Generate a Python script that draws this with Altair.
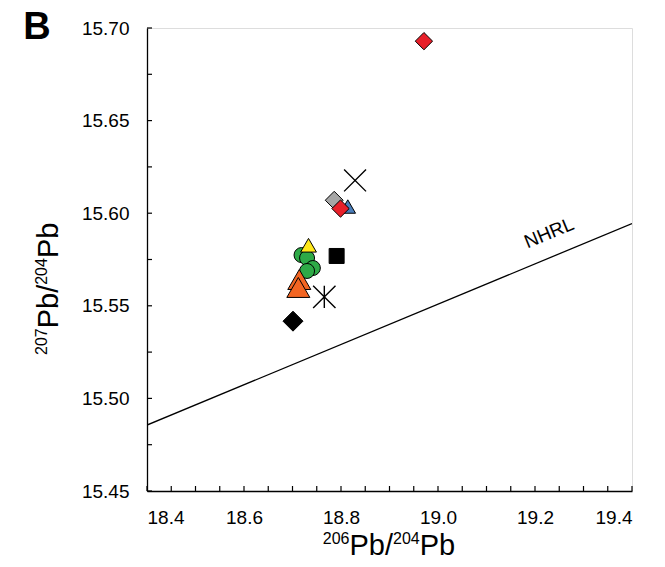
import altair as alt
import pandas as pd

# ---------------- data ----------------
blue_tri_x = [18.814]
blue_tri_y = [15.6036]
gray_dia_x = [18.786]
gray_dia_y = [15.607]
red_dia_x = [18.971, 18.799]
red_dia_y = [15.6929, 15.6025]
green_circ_x = [18.7186, 18.730, 18.742, 18.730]
green_circ_y = [15.5774, 15.5758, 15.5704, 15.5688]
yellow_tri_x = [18.733]
yellow_tri_y = [15.5827]
orange_tri_x = [18.714, 18.712]
orange_tri_y = [15.5642, 15.5599]
black_sq_x = [18.791]
black_sq_y = [15.5769]
star_x = [18.7656]
star_y = [15.5548]
black_dia_x = [18.701]
black_dia_y = [15.5417]
cross_x = [18.829]
cross_y = [15.6177]

nhrl_x = [18.4, 19.4]
nhrl_y = [15.4856, 15.5944]
nhrl_label = ["NHRL"]
nhrl_label_x = [19.229]
nhrl_label_y = [15.5893]

x_labels = [18.4, 18.6, 18.8, 19.0, 19.2, 19.4]
y_labels = [15.45, 15.50, 15.55, 15.60, 15.65, 15.70]
x_ticks = [18.4, 18.45, 18.5, 18.55, 18.6, 18.65, 18.7, 18.75, 18.8, 18.85, 18.9,
           18.95, 19.0, 19.05, 19.1, 19.15, 19.2, 19.25, 19.3, 19.35, 19.4]
y_ticks = [15.45, 15.475, 15.5, 15.525, 15.55, 15.575, 15.6, 15.625, 15.65,
           15.675, 15.7]
panel_label = ["B"]
x_title_parts = ["206", "Pb/", "204", "Pb"]
y_title_parts = ["207", "Pb/", "204", "Pb"]

# ---------------- styling ----------------
FONT = "Liberation Sans"
W, H = 485, 463
MAIN_FS, SUP_FS = 29, 16
TICK_LEN = 5
TICK_COL = "black"

xscale = alt.Scale(domain=[18.4, 19.4], nice=False, zero=False)
yscale = alt.Scale(domain=[15.45, 15.70], nice=False, zero=False)

xaxis = alt.Axis(values=x_labels, format=".1f", ticks=False, grid=False,
                 domainColor="black", domainWidth=1.3,
                 labelFont=FONT, labelFontSize=19, labelColor="black", labelPadding=17,
                 title=None)
yaxis = alt.Axis(values=y_labels, format=".2f", ticks=False, grid=False,
                 domainColor="black", domainWidth=1.3,
                 labelFont=FONT, labelFontSize=19, labelColor="black", labelPadding=18,
                 title=None)


def xy(xs, ys):
    return pd.DataFrame({"x": xs, "y": ys})


def enc(ch):
    return ch.encode(x=alt.X("x:Q", scale=xscale, axis=xaxis),
                     y=alt.Y("y:Q", scale=yscale, axis=yaxis))


def marker(xs, ys, shape, size, fill, filled=True, sw=1.0):
    if filled:
        m = alt.Chart(xy(xs, ys)).mark_point(shape=shape, size=size, filled=True,
                                             fill=fill, stroke="black", strokeWidth=sw,
                                             opacity=1)
    else:
        m = alt.Chart(xy(xs, ys)).mark_point(shape=shape, size=size, filled=False,
                                             stroke="black", strokeWidth=sw, opacity=1)
    return enc(m)


def text_piece(txt, px, py, fs, angle=0):
    props = dict(font=FONT, fontSize=fs, align="left", baseline="alphabetic", color="black")
    if angle:
        props["angle"] = angle
    return alt.Chart(pd.DataFrame({"t": [txt]})).mark_text(**props).encode(
        x=alt.value(px), y=alt.value(py), text="t:N")


X_PATH = "M-1,-1L1,1M-1,1L1,-1"
STAR_PATH = "M-1,-1L1,1M-1,1L1,-1M0,-1L0,1"

nhrl = enc(alt.Chart(xy(nhrl_x, nhrl_y)).mark_line(color="black", strokeWidth=1.3, clip=True))

nhrl_text = alt.Chart(pd.DataFrame({"x": nhrl_label_x, "y": nhrl_label_y, "t": nhrl_label})).mark_text(
    font=FONT, fontSize=19, angle=337.5, align="center", baseline="middle", color="black"
).encode(x=alt.X("x:Q", scale=xscale, axis=xaxis), y=alt.Y("y:Q", scale=yscale, axis=yaxis),
         text="t:N")

# inward-pointing tick marks
xtick_layer = alt.Chart(pd.DataFrame({"v": x_ticks})).mark_rule(
    color=TICK_COL, strokeWidth=1.2, opacity=1).encode(
    x=alt.X("v:Q", scale=xscale, axis=xaxis),
    y=alt.YDatum(15.45, scale=yscale, axis=yaxis),
    y2=alt.Y2Datum(15.45 + 0.25 * TICK_LEN / H))
ytick_layer = alt.Chart(pd.DataFrame({"v": y_ticks})).mark_rule(
    color=TICK_COL, strokeWidth=1.2, opacity=1).encode(
    y=alt.Y("v:Q", scale=yscale, axis=yaxis),
    x=alt.XDatum(18.4, scale=xscale, axis=xaxis),
    x2=alt.X2Datum(18.4 + 1.0 * TICK_LEN / W))

label_b = alt.Chart(pd.DataFrame({"t": panel_label})).mark_text(
    font=FONT, fontSize=38, fontWeight="bold", align="center", baseline="alphabetic", color="black"
).encode(x=alt.value(-110), y=alt.value(11), text="t:N")

# composed axis titles (superscript mass numbers)
x_title = [
    text_piece(x_title_parts[0], 175.8, 515.5, SUP_FS),
    text_piece(x_title_parts[1], 202.5, 527, MAIN_FS),
    text_piece(x_title_parts[2], 246.0, 515.5, SUP_FS),
    text_piece(x_title_parts[3], 272.7, 527, MAIN_FS),
]
y_title = [
    text_piece(y_title_parts[0], -100.5, 327, SUP_FS, 270),
    text_piece(y_title_parts[1], -89, 300.3, MAIN_FS, 270),
    text_piece(y_title_parts[2], -100.5, 256.8, SUP_FS, 270),
    text_piece(y_title_parts[3], -89, 230.1, MAIN_FS, 270),
]

layers = [
    nhrl,
    nhrl_text,
    xtick_layer,
    ytick_layer,
    marker(blue_tri_x, blue_tri_y, "triangle-up", 240, "#4A7EBB"),
    marker(gray_dia_x, gray_dia_y, "diamond", 320, "#A6A6A6"),
    marker(red_dia_x, red_dia_y, "diamond", 300, "#E8202A"),
    marker(green_circ_x, green_circ_y, "circle", 225, "#2EAA47"),
    marker(yellow_tri_x, yellow_tri_y, "triangle-up", 250, "#FFE81A"),
    marker(orange_tri_x, orange_tri_y, "triangle-up", 530, "#F26522"),
    marker(black_sq_x, black_sq_y, "square", 225, "black"),
    marker(black_dia_x, black_dia_y, "diamond", 400, "black"),
    marker(star_x, star_y, STAR_PATH, 500, None, filled=False, sw=1.4),
    marker(cross_x, cross_y, X_PATH, 480, None, filled=False, sw=1.4),
    label_b,
] + x_title + y_title

chart = alt.layer(*layers).properties(
    width=W, height=H,
    autosize=alt.AutoSizeParams(type="none"),
    padding={"left": 139, "top": 20, "right": 25, "bottom": 68},
).configure_view(stroke="black", strokeWidth=1.3).configure(background="white")

chart.save("out.html", embed_options={"renderer": "svg", "actions": False})
